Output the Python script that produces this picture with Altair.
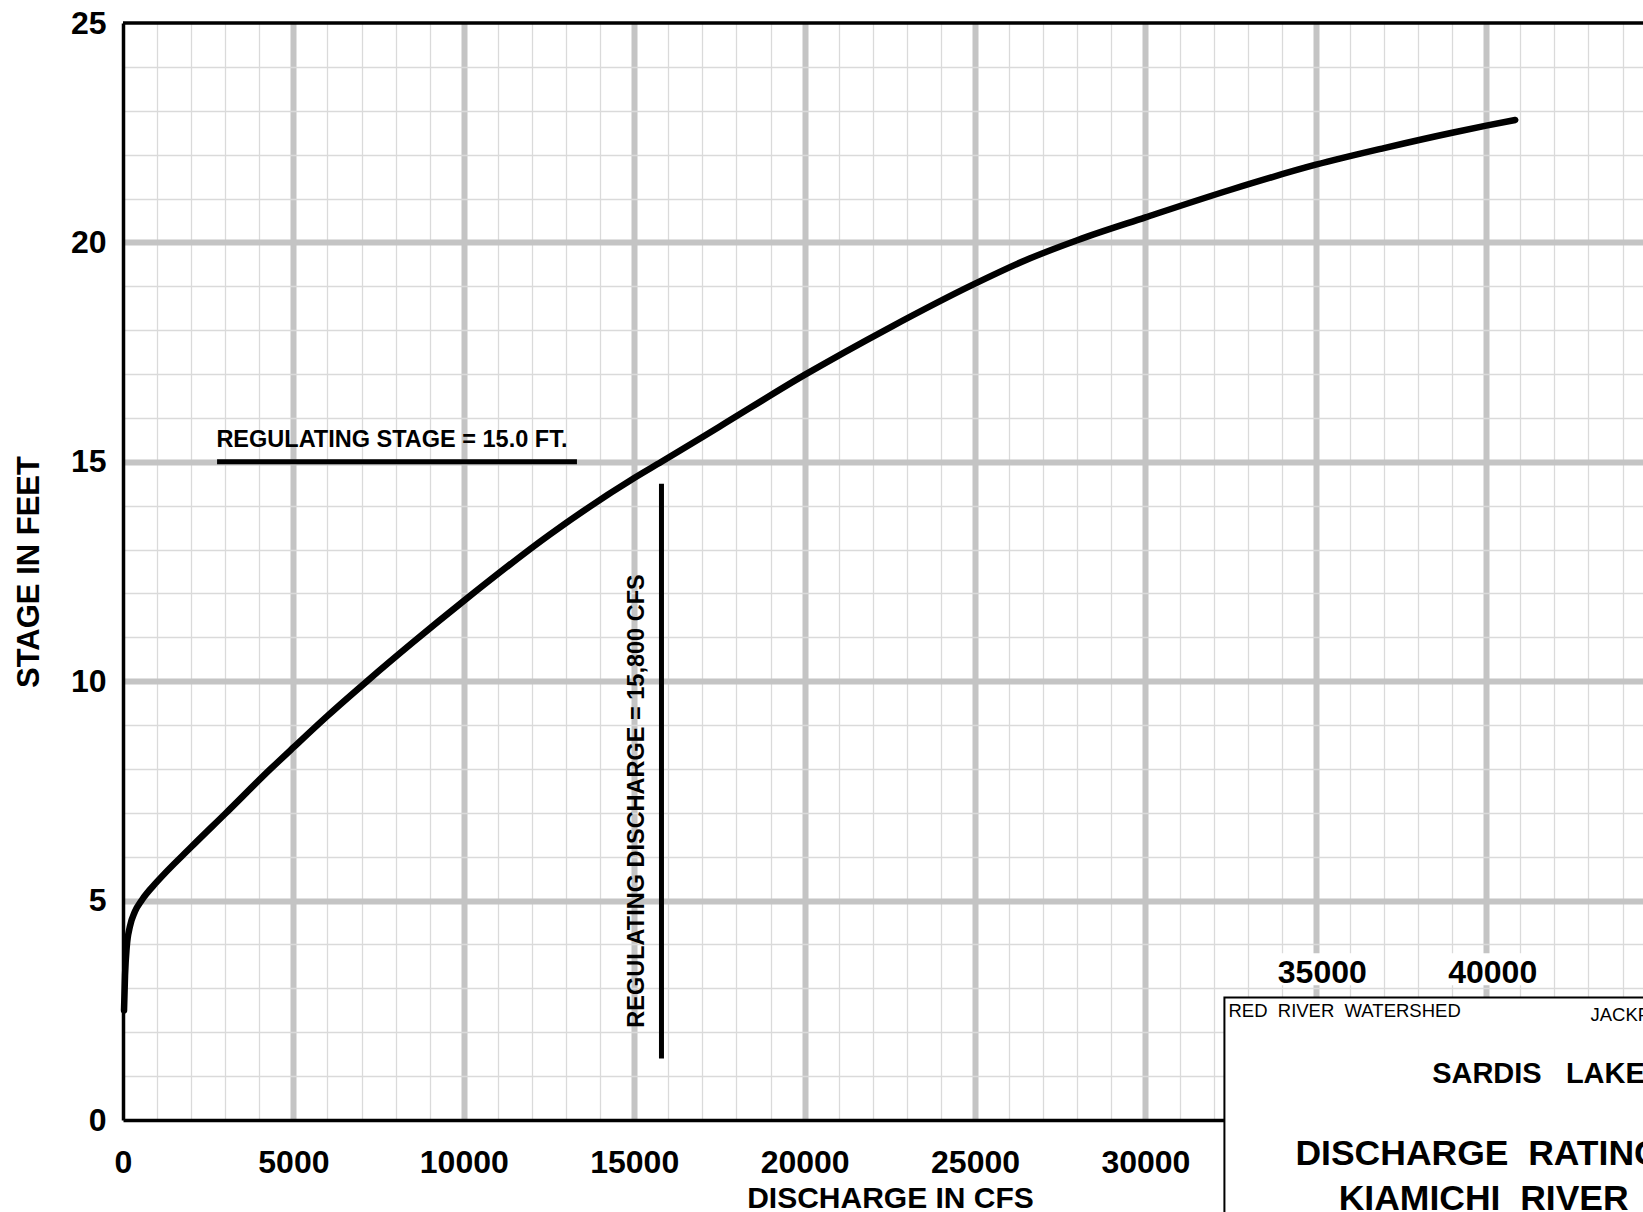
import altair as alt
import pandas as pd

# ---- Rating curve ----
discharge_cfs = [30, 60, 110, 200, 350, 560, 1000, 2000, 3000, 4330, 5000, 6000, 7160, 8500,
                 10000, 12500, 15000, 15800, 17500, 20000, 22500, 25000, 26500, 28000, 30000,
                 32500, 35000, 37000, 39000, 40000, 40850]
stage_ft = [2.5, 3.3, 3.95, 4.4, 4.75, 5.02, 5.43, 6.22, 6.98, 8.0, 8.49, 9.21, 10.0, 10.88,
            11.83, 13.33, 14.63, 15.0, 15.8, 16.98, 18.06, 19.06, 19.6, 20.05, 20.57,
            21.2, 21.77, 22.15, 22.5, 22.66, 22.79]

# ---- Axis / grid values ----
x_grid = [0, 1000, 2000, 3000, 4000, 5000, 6000, 7000, 8000, 9000, 10000, 11000, 12000, 13000,
          14000, 15000, 16000, 17000, 18000, 19000, 20000, 21000, 22000, 23000, 24000, 25000,
          26000, 27000, 28000, 29000, 30000, 31000, 32000, 33000, 34000, 35000, 36000, 37000,
          38000, 39000, 40000, 41000, 42000, 43000, 44000]
y_grid = [0, 1, 2, 3, 4, 5, 6, 7, 8, 9, 10, 11, 12, 13, 14, 15, 16, 17, 18, 19, 20, 21, 22, 23, 24, 25]
x_domain = [0, 44600]
y_domain = [0, 25]

# ---- Annotations ----
reg_stage = 15.0
reg_stage_span = [2760, 13320]
reg_discharge = 15800
reg_discharge_span = [1.4, 14.5]
stage_label = "REGULATING STAGE = 15.0 FT."
discharge_label = "REGULATING DISCHARGE = 15,800 CFS"
upper_tick_labels = ["35000", "40000"]
upper_tick_values = [35190, 40190]

NB = "\u00a0"
FONT = "Liberation Sans"

xs = alt.Scale(domain=x_domain, nice=False, zero=False)
ys = alt.Scale(domain=y_domain, nice=False, zero=False)

x_axis = alt.Axis(
    values=x_grid, format="d",
    labelExpr="datum.value % 5000 === 0 && datum.value <= 30000 ? datum.label : ''",
    labelFontSize=32, labelFontWeight="bold", labelFont=FONT, labelColor="black",
    labelPadding=27, labelFlush=False, labelOverlap=False, labelBound=False,
    ticks=False, domainColor="black", domainWidth=3.5,
    grid=True,
    gridColor={"condition": {"test": "datum.value % 5000 === 0", "value": "#c4c4c4"}, "value": "#dadada"},
    gridWidth={"condition": {"test": "datum.value % 5000 === 0", "value": 6}, "value": 1.3},
    gridOpacity={"condition": {"test": "datum.value === 0", "value": 0}, "value": 1},
    title="DISCHARGE IN CFS", titleFontSize=30, titleFontWeight="bold", titleFont=FONT,
    titleColor="black", titleX=767, titleY=63, titleBaseline="top", titleAlign="center",
)
y_axis = alt.Axis(
    values=y_grid, format="d",
    labelExpr="datum.value % 5 === 0 ? datum.label : ''",
    labelFontSize=32, labelFontWeight="bold", labelFont=FONT, labelColor="black",
    labelPadding=17, labelFlush=False, labelOverlap=False, labelBound=False,
    ticks=False, domainColor="black", domainWidth=3.5,
    grid=True,
    gridColor={"condition": {"test": "datum.value % 5 === 0", "value": "#c4c4c4"}, "value": "#dadada"},
    gridWidth={"condition": {"test": "datum.value % 5 === 0", "value": 6}, "value": 1.3},
    gridOpacity={"condition": {"test": "datum.value === 0 || datum.value === 25", "value": 0}, "value": 1},
    title="STAGE IN FEET", titleFontSize=31, titleFontWeight="bold", titleFont=FONT,
    titleColor="black", titleX=-94, titleY=548.5, titleAngle=270, titleBaseline="middle",
    titleAlign="center",
)


def X(f="q"):
    return alt.X(f"{f}:Q", scale=xs, axis=x_axis)


def Y(f="h"):
    return alt.Y(f"{f}:Q", scale=ys, axis=y_axis)


curve_df = pd.DataFrame({"q": discharge_cfs, "h": stage_ft})
curve = alt.Chart(curve_df).mark_line(
    color="black", strokeWidth=6.5, interpolate="monotone", strokeCap="round", strokeJoin="round"
).encode(x=X(), y=Y())

top_border = alt.Chart(pd.DataFrame({"q": [x_domain[0]], "q2": [x_domain[1]], "h": [y_domain[1]]})).mark_rule(
    color="black", strokeWidth=3.5
).encode(x=X(), x2="q2:Q", y=Y())

stage_rule = alt.Chart(pd.DataFrame({"q": [reg_stage_span[0]], "q2": [reg_stage_span[1]], "h": [reg_stage]})).mark_rule(
    color="black", strokeWidth=5
).encode(x=X(), x2="q2:Q", y=Y())

dis_rule = alt.Chart(pd.DataFrame({"q": [reg_discharge], "h": [reg_discharge_span[0]], "h2": [reg_discharge_span[1]]})).mark_rule(
    color="black", strokeWidth=5
).encode(x=X(), y=Y(), y2="h2:Q")

stage_text = alt.Chart(pd.DataFrame({"q": [7890], "h": [15.34], "t": [stage_label]})).mark_text(
    font=FONT, fontSize=23.5, fontWeight="bold", color="black", align="center", baseline="alphabetic"
).encode(x=X(), y=Y(), text="t:N")

dis_text = alt.Chart(pd.DataFrame({"q": [15300], "h": [7.27], "t": [discharge_label]})).mark_text(
    font=FONT, fontSize=23.5, fontWeight="bold", color="black", align="center", baseline="alphabetic", angle=270
).encode(x=X(), y=Y(), text="t:N")

# Title block (lower right, cropped by the image edge)
box = alt.Chart(pd.DataFrame({"q": [32318], "q2": [52000], "h": [2.79], "h2": [-6]})).mark_rect(
    fill="white", stroke="black", strokeWidth=2
).encode(x=X(), x2="q2:Q", y=Y(), y2="h2:Q")

label_bg = alt.Chart(pd.DataFrame({"q": [v - 1350 for v in upper_tick_values],
                                   "q2": [v + 1350 for v in upper_tick_values],
                                   "h": [3.07, 3.07], "h2": [3.8, 3.8]})).mark_rect(
    fill="white"
).encode(x=X(), x2="q2:Q", y=Y(), y2="h2:Q")

upper_ticks = alt.Chart(pd.DataFrame({"q": upper_tick_values, "h": [3.115, 3.115], "t": upper_tick_labels})).mark_text(
    font=FONT, fontSize=32, fontWeight="bold", color="black", align="center", baseline="alphabetic"
).encode(x=X(), y=Y(), text="t:N")

block_small = alt.Chart(pd.DataFrame({
    "q": [32436, 43058], "h": [2.34, 2.26],
    "t": [f"RED{NB}{NB}RIVER{NB}{NB}WATERSHED", f"JACKFORK{NB}{NB}CREEK"]})).mark_text(
    font=FONT, fontSize=18.5, color="black", align="left", baseline="alphabetic"
).encode(x=X(), y=Y(), text="t:N")

block_mid = alt.Chart(pd.DataFrame({"q": [38413], "h": [0.85], "t": [f"SARDIS{NB}{NB}{NB}LAKE"]})).mark_text(
    font=FONT, fontSize=29, fontWeight="bold", color="black", align="left", baseline="alphabetic"
).encode(x=X(), y=Y(), text="t:N")

block_big = alt.Chart(pd.DataFrame({
    "q": [34402, 35672], "h": [-1.03, -2.05],
    "t": [f"DISCHARGE{NB}{NB}RATING", f"KIAMICHI{NB}{NB}RIVER"]})).mark_text(
    font=FONT, fontSize=35.5, fontWeight="bold", color="black", align="left", baseline="alphabetic"
).encode(x=X(), y=Y(), text="t:N")

chart = alt.layer(
    curve, top_border, stage_rule, dis_rule, stage_text, dis_text,
    box, label_bg, upper_ticks, block_small, block_mid, block_big
).properties(
    width=1520, height=1097,
    autosize=alt.AutoSizeParams(type="none"),
    padding={"left": 123, "top": 23, "right": 0, "bottom": 92},
    background="white",
).configure_view(stroke=None)

chart.save("out.html", embed_options={"renderer": "svg", "actions": False})
